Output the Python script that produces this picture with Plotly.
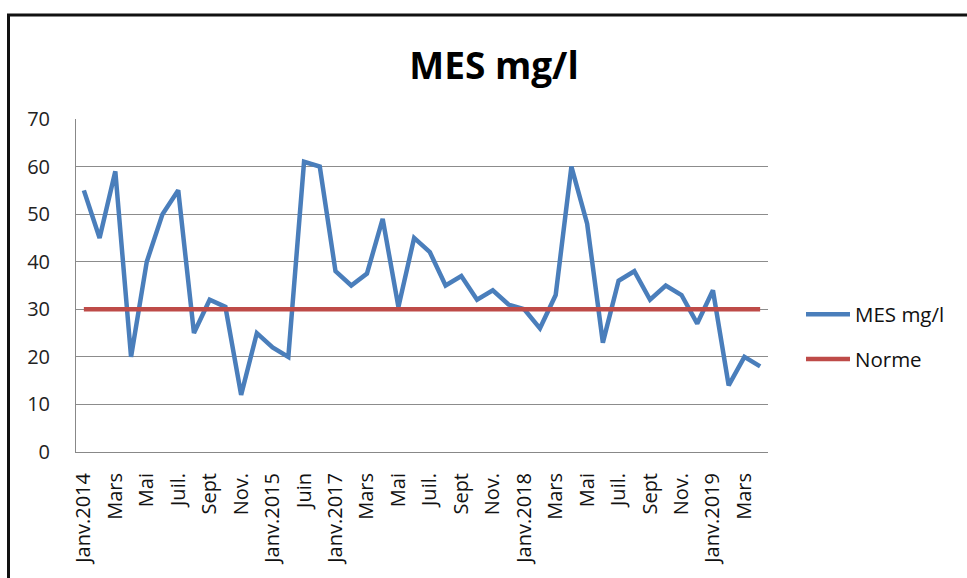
import plotly.graph_objects as go

# Monthly suspended solids (MES) measurements, in mg/l
mes_values = [55, 45, 59, 20, 40, 50, 55, 25, 32, 30.5, 12, 25, 22, 20,
              61, 60, 38, 35, 37.5, 49, 30.5, 45, 42, 35, 37, 32, 34, 31,
              30, 26, 33, 60, 48, 23, 36, 38, 32, 35, 33, 27, 34, 14, 20, 18]
# Regulatory limit
norme_value = 30
norme_values = [norme_value] * len(mes_values)

# Labels shown on every other sample
tick_labels = ["Janv.2014", "Mars", "Mai", "Juil.", "Sept", "Nov.",
               "Janv.2015", "Juin", "Janv.2017", "Mars", "Mai", "Juil.",
               "Sept", "Nov.", "Janv.2018", "Mars", "Mai", "Juil.", "Sept",
               "Nov.", "Janv.2019", "Mars"]
y_ticks = [0, 10, 20, 30, 40, 50, 60, 70]

x_idx = list(range(len(mes_values)))
tick_pos = x_idx[::2]

FONT = "'Open Sans', Lato, sans-serif"

fig = go.Figure()
fig.add_trace(go.Scatter(
    x=x_idx, y=mes_values, mode="lines", name="MES mg/l",
    legendgroup="mes", line=dict(color="#4A7EBB", width=4.5),
))
fig.add_trace(go.Scatter(
    x=x_idx, y=norme_values, mode="lines", name="Norme",
    legendgroup="norme", line=dict(color="#BE4B48", width=4.5),
))

fig.update_layout(
    width=967, height=578,
    margin=dict(l=76, r=199, t=119, b=126),
    paper_bgcolor="white", plot_bgcolor="white",
    font=dict(family=FONT, size=20, color="#222222"),
    title=dict(text="<b>MES mg/l</b>", x=494 / 967, xanchor="center",
               y=1 - 66 / 578, yanchor="middle",
               font=dict(family=FONT, size=37, color="#000000")),
    legend=dict(x=(801 - 76) / 692, y=(452 - 337) / 333,
                xanchor="left", yanchor="middle",
                font=dict(family=FONT, size=20.5, color="#111111"),
                traceorder="grouped", tracegroupgap=15, itemwidth=44,
                bgcolor="rgba(0,0,0,0)"),
    showlegend=True,
)
fig.update_xaxes(
    range=[-0.5, len(mes_values) - 0.5],
    tickmode="array", tickvals=tick_pos, ticktext=tick_labels,
    tickangle=-90, tickfont=dict(family=FONT, size=20, color="#111111"),
    showgrid=False, showline=True, linecolor="#888888", linewidth=1,
    ticks="", ticklabelstandoff=12, zeroline=False,
)
fig.update_yaxes(
    range=[0, 70], tickmode="array", tickvals=y_ticks,
    tickfont=dict(family=FONT, size=20, color="#222222"),
    showgrid=True, gridcolor="#8C8C8C", gridwidth=1,
    showline=True, linecolor="#888888", linewidth=1,
    ticks="", ticklabelstandoff=21, zeroline=False,
)

# Outer frame of the chart area
fig.add_shape(type="rect", xref="paper", yref="paper",
              x0=(8.5 - 76) / 692, x1=1.6, y0=-0.6, y1=(452 - 15) / 333,
              line=dict(color="#111111", width=3), fillcolor="rgba(0,0,0,0)",
              layer="below")

fig.write_html("out.html")
